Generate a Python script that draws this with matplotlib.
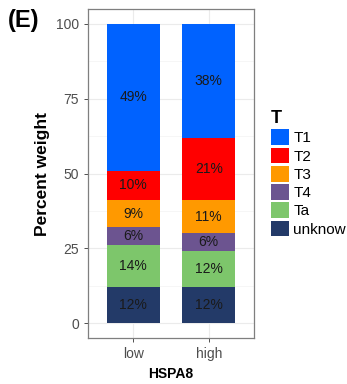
import matplotlib
matplotlib.use("Agg")
import matplotlib.pyplot as plt
import numpy as np

plt.rcParams["font.family"] = ["Liberation Sans", "DejaVu Sans"]

# Stage composition per HSPA8 group, bottom to top
groups = ["low", "high"]
stages = ["unknow", "Ta", "T4", "T3", "T2", "T1"]
unknow = [12, 12]
ta = [14, 12]
t4 = [6, 6]
t3 = [9, 11]
t2 = [10, 21]
t1 = [49, 38]
colors = {
    "T1": "#0062FF",
    "T2": "#FF0000",
    "T3": "#FF9900",
    "T4": "#6C5490",
    "Ta": "#7DC66B",
    "unknow": "#233A68",
}

values = {"unknow": unknow, "Ta": ta, "T4": t4, "T3": t3, "T2": t2, "T1": t1}

fig = plt.figure(figsize=(3.47, 3.84), dpi=100)
ax = fig.add_axes([88 / 347, 1 - 338 / 384, 166 / 347, 329 / 384])

x = np.arange(1, len(groups) + 1)
bottom = np.zeros(len(groups))
bars = {}
for st in stages:
    v = np.array(values[st], dtype=float)
    bars[st] = ax.bar(x, v, bottom=bottom, width=0.7, color=colors[st], zorder=3,
                      label=st)
    for xi, b, h in zip(x, bottom, v):
        ax.text(xi, b + h / 2, f"{int(h)}%", ha="center", va="center",
                fontsize=10, color="#1a1a1a", zorder=4)
    bottom += v

# Axes in ggplot theme_bw style
ax.set_xlim(0.4, 2.6)
ax.set_ylim(-5, 105)
ax.set_xticks(x)
ax.set_xticklabels(groups)
ax.set_yticks([0, 25, 50, 75, 100])
ax.set_yticks([12.5, 37.5, 62.5, 87.5], minor=True)
ax.grid(which="major", color="#EBEBEB", lw=0.8, zorder=0)
ax.grid(which="minor", axis="y", color="#F3F3F3", lw=0.5, zorder=0)
for s in ax.spines.values():
    s.set_color("#7F7F7F")
    s.set_linewidth(0.9)
ax.tick_params(axis="both", which="major", colors="#333333", labelsize=10,
               length=3, width=0.6, labelcolor="#4D4D4D")
ax.tick_params(axis="y", which="minor", length=0)
ax.set_xlabel("HSPA8", fontsize=10, fontweight="bold", labelpad=4)
ax.set_ylabel("Percent weight", fontsize=12.5, fontweight="bold", labelpad=4)

fig.text(8 / 347, 1 - 21 / 384, "(E)", fontsize=17, fontweight="bold",
         va="center", ha="left")

# Legend lists stages top-down
handles = [bars[s] for s in stages[::-1]]
leg = fig.legend(handles, stages[::-1], title="T", loc="upper left",
                 bbox_to_anchor=(271 / 347, 1 - 110 / 384), frameon=False,
                 fontsize=11, handlelength=1.15, handleheight=1.2,
                 handletextpad=0.3, labelspacing=0.15, borderaxespad=0,
                 borderpad=0)
leg.get_title().set_fontweight("bold")
leg.get_title().set_fontsize(13)
leg._legend_box.align = "left"

fig.savefig("out.png", dpi=100)
